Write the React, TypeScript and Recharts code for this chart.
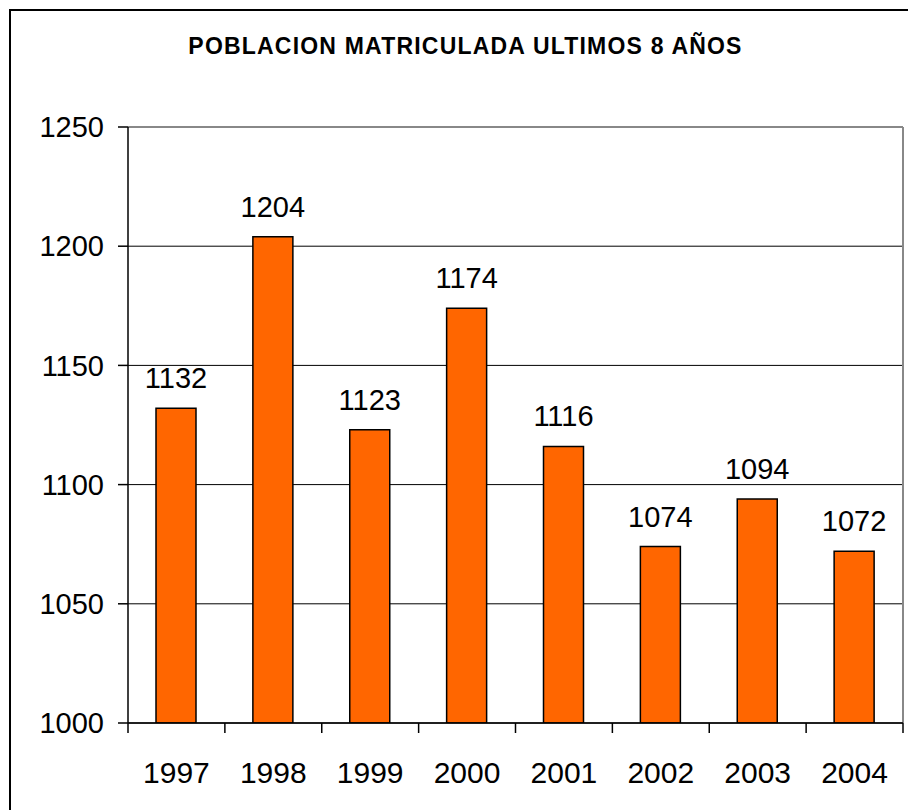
import React from 'react';
import { BarChart, Bar, XAxis, YAxis, CartesianGrid, LabelList } from 'recharts';

const years = ['1997', '1998', '1999', '2000', '2001', '2002', '2003', '2004'];
const enrolled = [1132, 1204, 1123, 1174, 1116, 1074, 1094, 1072];
const yTicks = [1000, 1050, 1100, 1150, 1200, 1250];

const data = years.map((year, i) => ({ year, value: enrolled[i] }));

const W = 908;
const H = 810;
const margin = { top: 127, right: 5, left: 8, bottom: 0 };
const yAxisWidth = 120;
const xAxisHeight = 87;
const plotWidth = W - margin.left - yAxisWidth - margin.right;
const band = plotWidth / years.length;
const font = '"Liberation Sans", Arial, sans-serif';

const XTick = (props: any) => {
  const { x, y, payload, index } = props;
  const left = x - band / 2;
  return (
    <g>
      <line x1={left} y1={y} x2={left} y2={y + 10} stroke="#000" strokeWidth={1.5} />
      {index === years.length - 1 && (
        <line x1={x + band / 2} y1={y} x2={x + band / 2} y2={y + 10} stroke="#000" strokeWidth={1.5} />
      )}
      <text x={x} y={y + 60} textAnchor="middle" fontSize={30} fill="#000" fontFamily={font}>
        {payload.value}
      </text>
    </g>
  );
};

export default function App() {
  return (
    <div style={{ position: 'absolute', left: 0, top: 0, width: W, height: H, background: '#fff', fontFamily: font }}>
      <div
        style={{
          position: 'absolute',
          left: 9,
          top: 9,
          right: 0,
          bottom: 0,
          borderLeft: '2px solid #000',
          borderTop: '2px solid #000',
        }}
      />
      <div
        style={{
          position: 'absolute',
          left: 0,
          width: 931,
          top: 33,
          textAlign: 'center',
          fontSize: 23,
          fontWeight: 'bold',
          letterSpacing: 1.2,
          lineHeight: '26px',
          color: '#000',
        }}
      >
        POBLACION MATRICULADA ULTIMOS 8 AÑOS
      </div>
      <div style={{ position: 'absolute', left: 0, top: 0 }}>
        <BarChart width={W} height={H} data={data} margin={margin} barSize={40}>
          <CartesianGrid vertical={false} stroke="#000" strokeWidth={1} />
          <CartesianGrid
            horizontal={false}
            stroke="#888"
            strokeWidth={2}
            verticalCoordinatesGenerator={({ offset }: any) => [offset.left + offset.width]}
          />
          <CartesianGrid
            vertical={false}
            stroke="#888"
            strokeWidth={2}
            horizontalCoordinatesGenerator={({ offset }: any) => [offset.top]}
          />
          <XAxis
            dataKey="year"
            height={xAxisHeight}
            axisLine={{ stroke: '#000', strokeWidth: 1.5 }}
            tickLine={false}
            tickSize={0}
            tickMargin={0}
            interval={0}
            tick={<XTick />}
          />
          <YAxis
            width={yAxisWidth}
            domain={[1000, 1250]}
            ticks={yTicks}
            interval={0}
            allowDataOverflow
            axisLine={{ stroke: '#000', strokeWidth: 1.5 }}
            tickLine={{ stroke: '#000', strokeWidth: 1.5 }}
            tickSize={10}
            tickMargin={14}
            tick={{ fontSize: 29, fill: '#000', fontFamily: font }}
          />
          <Bar dataKey="value" fill="#FF6600" stroke="#000" strokeWidth={1.5} isAnimationActive={false}>
            <LabelList dataKey="value" position="top" offset={20} fontSize={29} fill="#000" fontFamily={font} />
          </Bar>
        </BarChart>
      </div>
    </div>
  );
}
